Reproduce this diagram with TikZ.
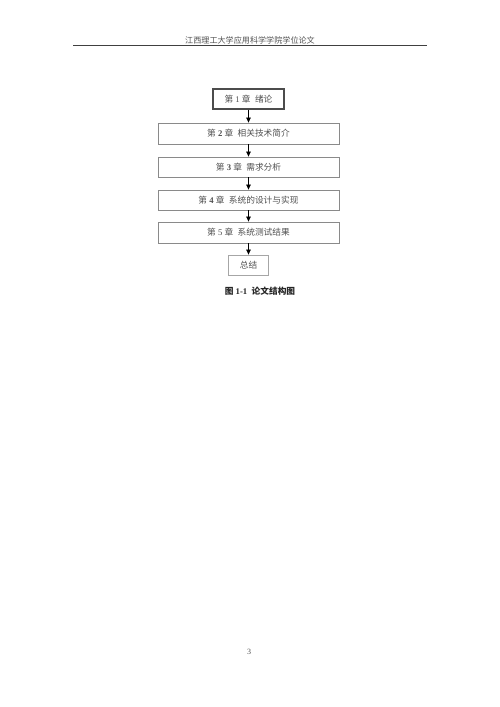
\documentclass[tikz,border=0pt]{standalone}
\usepackage{fontspec}
\setmainfont{Liberation Serif}
\newfontfamily\cjkfont{Noto Sans CJK SC}
\newcommand{\zh}[1]{{\cjkfont #1}}
\usetikzlibrary{arrows.meta}
\definecolor{boxgray}{HTML}{8A8A8A}
\definecolor{txtgray}{HTML}{505050}
\tikzset{
  chapbox/.style={draw=boxgray, line width=0.8pt, minimum width=181pt, minimum height=20pt,
    inner sep=0pt, text=txtgray, font=\fontsize{8.7}{10}\selectfont},
  firstbox/.style={chapbox, draw=black!70, line width=1.4pt, minimum width=71pt},
  endbox/.style={chapbox, draw=black!35, minimum width=40pt},
  flow/.style={draw=black, line width=0.7pt, -{Triangle[length=5pt,width=4.5pt]}}
}
\begin{document}
\begin{tikzpicture}[x=1pt,y=-1pt]
\useasboundingbox (0,0) rectangle (500,707);
% header
\node[text=txtgray, font=\fontsize{8.1}{10}\selectfont] (hdr) at (250,40) {\zh{江西理工大学应用科学学院学位论文}};
\coordinate (hl) at (73,45.5);
\coordinate (hr) at (427,45.5);
\draw[draw=black!75, line width=0.9pt] (hl) -- (hr);
% boxes
\node[firstbox] (c1) at (248.5,99) {\zh{第} 1 \zh{章}\ \ \zh{绪论}};
\node[chapbox, minimum height=21pt] (c2) at (248.5,133.5) {\zh{第} \textbf{2} \zh{章}\ \ \zh{相关技术简介}};
\node[chapbox] (c3) at (248.5,167) {\zh{第} \textbf{3} \zh{章}\ \ \zh{需求分析}};
\node[chapbox] (c4) at (248.5,200) {\zh{第} \textbf{4} \zh{章}\ \ \zh{系统的设计与实现}};
\node[chapbox, minimum height=21pt] (c5) at (248.5,232.5) {\zh{第} 5 \zh{章}\ \ \zh{系统测试结果}};
\node[endbox] (c6) at (248.5,265) {\zh{总结}};
% arrows
\draw[flow] (c1) -- (c2);
\draw[flow] (c2) -- (c3);
\draw[flow] (c3) -- (c4);
\draw[flow] (c4) -- (c5);
\draw[flow] (c5) -- (c6);
% caption
\node[font=\fontsize{8.7}{10}\selectfont\bfseries, text=black!85] (cap) at (260,291) {\zh{\bfseries 图} 1-1\ \ \zh{\bfseries 论文结构图}};
% page number
\node[font=\fontsize{8}{10}\selectfont, text=txtgray] (pg) at (249,652) {3};
\end{tikzpicture}
\end{document}
